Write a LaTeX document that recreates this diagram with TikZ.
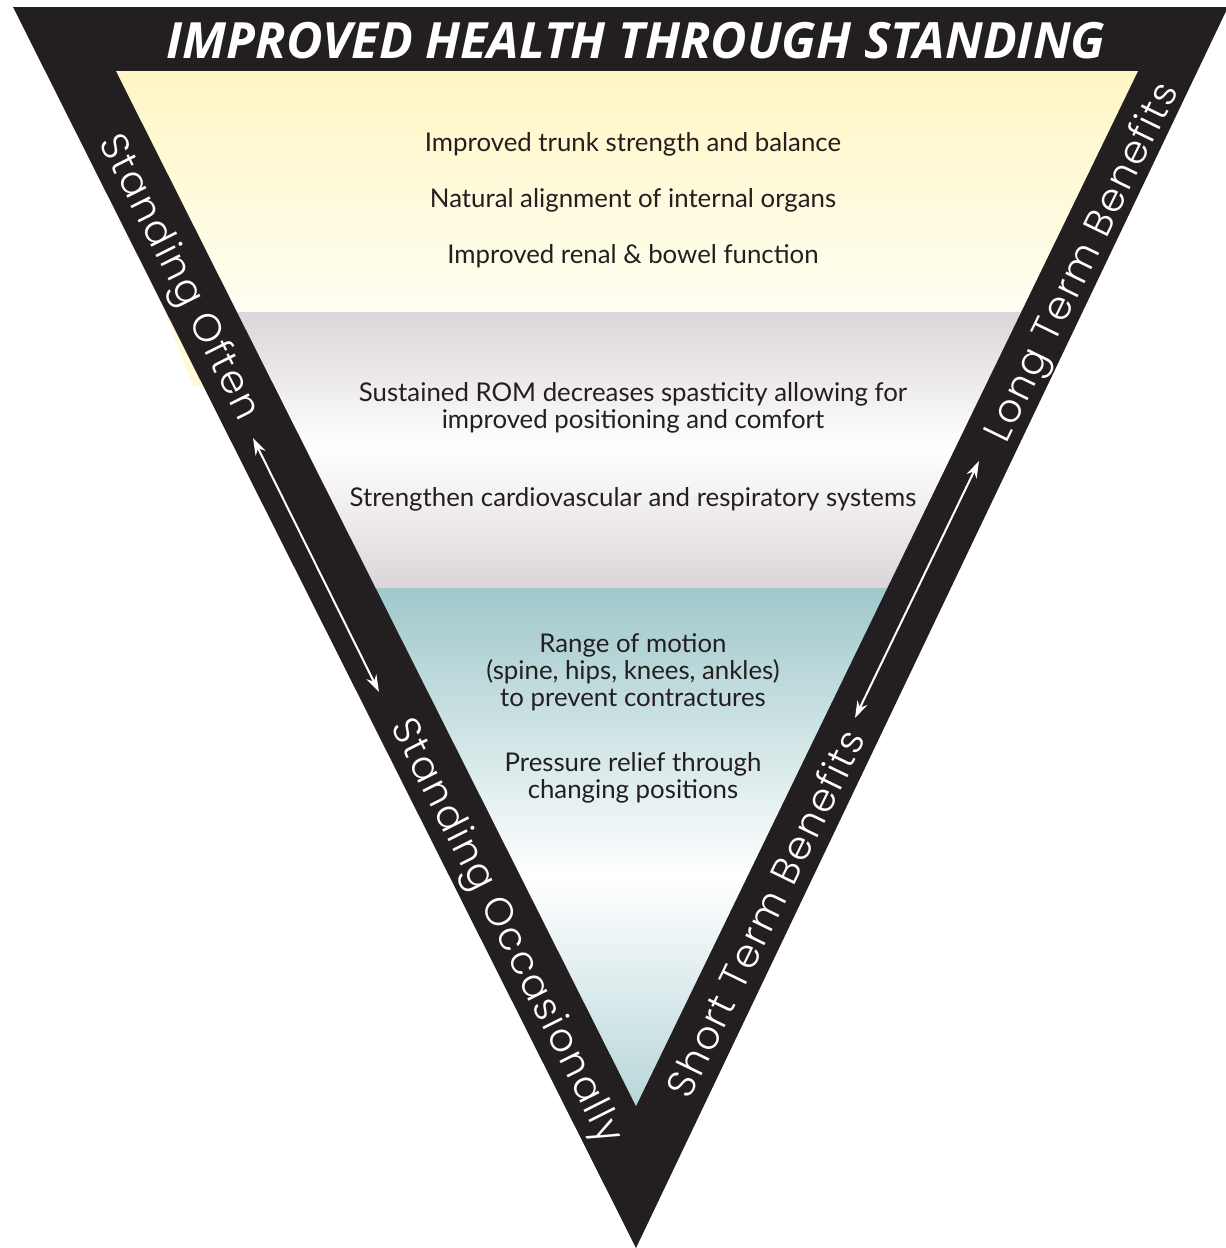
\documentclass[tikz,border=0pt]{standalone}
\usepackage{fontspec}
\setmainfont{Lato}
\newfontfamily\titlefont{Open Sans}
\newfontfamily\sidefont{Poppins Light}[LetterSpace=5]
\usetikzlibrary{arrows.meta}
\definecolor{ink}{HTML}{231F20}
\definecolor{butter}{HTML}{FFF6C4}
\definecolor{cream}{HTML}{FFFEF2}
\definecolor{mauve}{HTML}{DCD5D9}
\definecolor{tealtop}{HTML}{A0C8CB}
\definecolor{tealbot}{HTML}{B8D6D9}
\pgfdeclareverticalshading{tealfade}{100bp}{color(0bp)=(tealbot); color(25bp)=(tealbot); color(47bp)=(white); color(75bp)=(tealtop); color(100bp)=(tealtop)}
\begin{document}
\begin{tikzpicture}[x=1pt,y=-1pt,
  item/.style={align=center,font=\fontsize{25.8}{27}\selectfont,text=ink,anchor=base},
  side/.style={text=white,font=\sidefont\fontsize{39}{39}\selectfont},
  arr/.style={white,line width=2pt,{Stealth[length=17pt,width=11pt]}-{Stealth[length=17pt,width=11pt]}}]
  \useasboundingbox (0,0) rectangle (1226,1248);
  % yellow edge peeking out behind the frame
  \fill[butter!60!cream] (156,288) -- (193,386) -- (260,386) -- (260,288) -- cycle;
  % frame
  \fill[ink] (13,7) -- (1228,7) -- (636,1248) -- cycle;
  \begin{scope}
    \clip (116,71) -- (1138,71) -- (636,1106) -- cycle;
    \shade[top color=butter,bottom color=cream] (0,71) rectangle (1226,312);
    \shade[top color=mauve,bottom color=mauve,middle color=white] (0,312) rectangle (1226,588);
    \shade[shading=tealfade] (0,588) rectangle (1226,1106);
  \end{scope}

  \node[text=white,anchor=base,font=\titlefont\bfseries\itshape\fontsize{50}{50}\selectfont] (title) at (636,58) {IMPROVED HEALTH THROUGH STANDING};

  % multi-line items sit on the baseline of their last line
  \node[item] (trunk) at (633,151) {Improved trunk strength and balance};
  \node[item] (organs) at (633,207.5) {Natural alignment of internal organs};
  \node[item] (renal) at (633,263.5) {Improved renal \& bowel function};

  \node[item] (rom) at (633,428.5) {Sustained ROM decreases spasticity allowing for\\improved positioning and comfort};
  \node[item] (cardio) at (633,506.5) {Strengthen cardiovascular and respiratory systems};

  \node[item] (motion) at (633,706) {Range of motion\\(spine, hips, knees, ankles)\\to prevent contractures};
  \node[item] (pressure) at (633,798.5) {Pressure relief through\\changing positions};

  \node[side,rotate=-63.3] (often) at (178,278) {Standing Often};
  \node[side,rotate=-63.3] (occas) at (505,932) {Standing Occasionally};
  \node[side,rotate=64] (long) at (1084,263) {Long Term Benefits};
  \node[side,rotate=64] (short) at (765,913) {Short Term Benefits};

  \coordinate (oftenTip) at (253,438);
  \coordinate (occasTip) at (379,692);
  \coordinate (longTip) at (979,461);
  \coordinate (shortTip) at (855,718);
  \draw[arr] (oftenTip) -- (occasTip);
  \draw[arr] (longTip) -- (shortTip);
\end{tikzpicture}
\end{document}
